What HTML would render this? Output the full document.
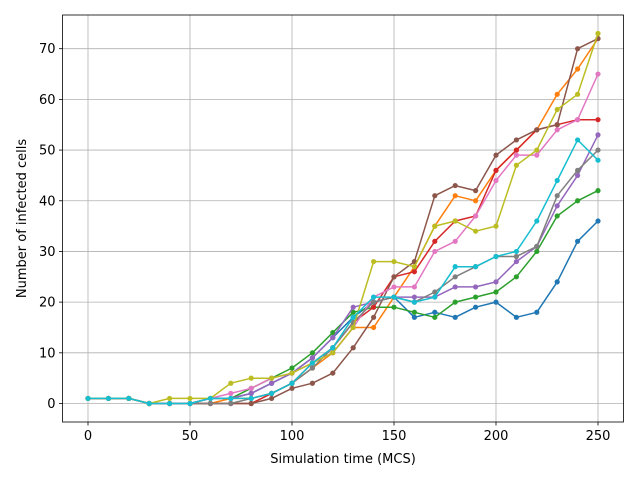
<!DOCTYPE html>
<html><head><meta charset="utf-8"><style>
body{margin:0;background:#fff}
svg text{font-family:"DejaVu Sans","Liberation Sans",sans-serif;font-size:13px;fill:#000}
</style></head><body>
<svg id="chart" width="640" height="480" viewBox="0 0 640 480" xmlns="http://www.w3.org/2000/svg">
<rect width="640" height="480" fill="#fff"/>
<g id="grid"></g><g id="series"></g><g id="axes"></g>
</svg>
<script>
const xValues=[0,10,20,30,40,50,60,70,80,90,100,110,120,130,140,150,160,170,180,190,200,210,220,230,240,250];
const seriesBlue=[1,1,1,0,0,0,1,1,2,4,6,9,13,17,20,21,17,18,17,19,20,17,18,24,32,36];
const seriesOrange=[1,1,1,0,0,0,0,1,1,2,4,7,10,15,15,21,27,35,41,40,46,50,54,61,66,72];
const seriesGreen=[1,1,1,0,0,0,1,1,3,5,7,10,14,18,19,19,18,17,20,21,22,25,30,37,40,42];
const seriesRed=[1,1,1,0,0,0,0,0,0,2,4,8,11,16,19,25,26,32,36,37,46,50,54,55,56,56];
const seriesPurple=[1,1,1,0,0,0,1,1,2,4,6,9,13,19,20,21,21,21,23,23,24,28,31,39,45,53];
const seriesBrown=[1,1,1,0,0,0,0,0,0,1,3,4,6,11,17,25,28,41,43,42,49,52,54,55,70,72];
const seriesPink=[1,1,1,0,0,0,1,2,3,5,6,8,10,15,21,23,23,30,32,37,44,49,49,54,56,65];
const seriesGray=[1,1,1,0,0,0,0,0,1,2,4,7,11,16,20,21,20,22,25,27,29,29,31,41,46,50];
const seriesOlive=[1,1,1,0,1,1,1,4,5,5,6,8,10,15,28,28,27,35,36,34,35,47,50,58,61,73];
const seriesCyan=[1,1,1,0,0,0,1,1,1,2,4,8,11,17,21,21,20,21,27,27,29,30,36,44,52,48];
const xTicks=[0,50,100,150,200,250];
const yTicks=[0,10,20,30,40,50,60,70];
const NS="http://www.w3.org/2000/svg";
const L=62.5,R=623.5,T=15,B=422,xmin=-12.5,xmax=262.5,ymin=-3.65,ymax=76.65;
function xs(v){return L+(v-xmin)/(xmax-xmin)*(R-L);}
function ys(v){return B-(v-ymin)/(ymax-ymin)*(B-T);}
function mk(tag,attrs,parent){const e=document.createElementNS(NS,tag);for(const k in attrs)e.setAttribute(k,attrs[k]);parent.appendChild(e);return e;}
const grid=document.getElementById('grid'),axes=document.getElementById('axes'),sg=document.getElementById('series');
xTicks.forEach(t=>{const x=xs(t);
 const g=mk('line',{x1:x,x2:x,y1:T,y2:B,stroke:'#b0b0b0','stroke-width':0.8},grid);
 
 mk('line',{x1:x,x2:x,y1:B,y2:B+3.5,stroke:'#000','stroke-width':0.8},axes);
 const tx=mk('text',{x:x,y:B+18,'text-anchor':'middle'},axes);tx.textContent=t;
 });
yTicks.forEach(t=>{const y=ys(t);
 const g=mk('line',{x1:L,x2:R,y1:y,y2:y,stroke:'#b0b0b0','stroke-width':0.8},grid);
 
 mk('line',{x1:L-3.5,x2:L,y1:y,y2:y,stroke:'#000','stroke-width':0.8},axes);
 const tx=mk('text',{x:L-7,y:y+4.5,'text-anchor':'end'},axes);tx.textContent=t;
 });
const frame=mk('rect',{x:L,y:T,width:R-L,height:B-T,fill:'none',stroke:'#000','stroke-width':0.8},axes);

const xt=mk('text',{x:(L+R)/2,y:463,'text-anchor':'middle'},axes);xt.textContent='Simulation time (MCS)';

const yt=mk('text',{x:0,y:0,'text-anchor':'middle',transform:`translate(26,${(T+B)/2}) rotate(-90)`},axes);yt.textContent='Number of infected cells';

const all=[[seriesBlue,'#1f77b4','blue'],[seriesOrange,'#ff7f0e','orange'],[seriesGreen,'#2ca02c','green'],[seriesRed,'#d62728','red'],[seriesPurple,'#9467bd','purple'],[seriesBrown,'#8c564b','brown'],[seriesPink,'#e377c2','pink'],[seriesGray,'#7f7f7f','gray'],[seriesOlive,'#bcbd22','olive'],[seriesCyan,'#17becf','cyan']];
all.forEach(([d,c,n])=>{
 const g=mk('g',{},sg);
 
 const pts=d.map((v,i)=>xs(xValues[i]).toFixed(1)+','+ys(v).toFixed(1)).join(' ');
 const pl=mk('polyline',{points:pts,fill:'none',stroke:c,'stroke-width':1.5,'stroke-linejoin':'round'},g);
 
 d.forEach((v,i)=>{const p=mk('circle',{cx:xs(xValues[i]),cy:ys(v),r:2.6,fill:c},g);
  });
});
</script>
</body></html>
